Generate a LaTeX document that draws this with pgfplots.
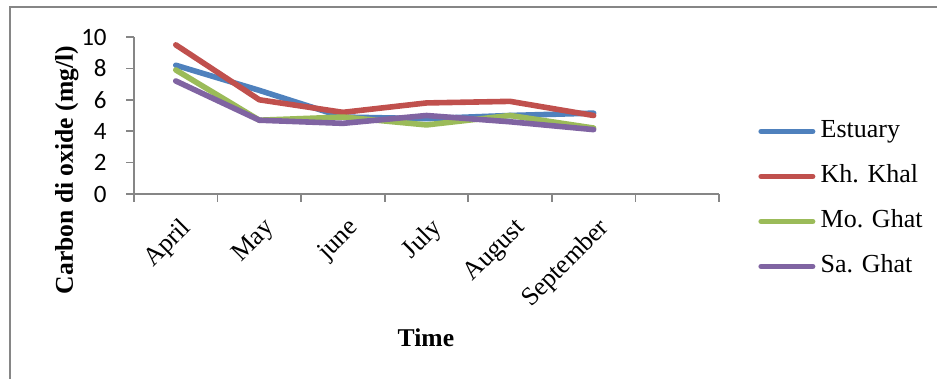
\documentclass[border=0pt]{standalone}
\usepackage{fontspec}
\setmainfont{Liberation Serif}
\newfontfamily\calibri{Carlito}
\usepackage{pgfplots}
\pgfplotsset{compat=1.18}
\definecolor{cEst}{HTML}{4F81BD}
\definecolor{cKh}{HTML}{C0504D}
\definecolor{cMo}{HTML}{9BBB59}
\definecolor{cSa}{HTML}{8064A2}
\definecolor{axgray}{HTML}{868686}
\begin{document}
\begin{tikzpicture}
\path[use as bounding box] (0,0) rectangle (468.5pt,189.5pt);
\draw[axgray, line width=0.8pt] (5pt,-1pt) -- (5pt,186pt) -- (470pt,186pt);
\begin{axis}[
  at={(67pt,92.5pt)}, anchor=south west,
  scale only axis, width=292.5pt, height=78.5pt,
  xmin=-0.5, xmax=6.5, ymin=0, ymax=10,
  axis x line=bottom, axis y line=left,
  axis line style={axgray, line width=0.8pt, -},
  every tick/.style={axgray, line width=0.8pt},
  tick align=outside, major tick length=4pt,
  xtick={-0.5,0.5,...,6.5}, xticklabels={},
  extra x ticks={0,1,2,3,4,5},
  extra x tick labels={April,May,june,July,August,September},
  extra x tick style={major tick length=0pt,
    tick label style={rotate=45, anchor=east, inner sep=0pt, xshift=-6.5pt, yshift=-15pt,
      font=\fontsize{13}{15}\selectfont}},
  ytick={0,2,...,10},
  yticklabel style={font=\calibri\fontsize{12.5}{14}\selectfont, inner sep=0pt, xshift=-9.5pt},
  /pgf/number format/assume math mode=true,
  ylabel={\textbf{Carbon di oxide (mg/l)}},
  every axis y label/.style={at={(axis description cs:-0.115,0.153)}, rotate=90, anchor=center,
    font=\fontsize{12.8}{15}\selectfont},
  xlabel={\textbf{Time}},
  every axis x label/.style={at={(axis description cs:0.499,-0.917)}, anchor=center,
    font=\fontsize{12.8}{15}\selectfont},
  clip=false,
  legend cell align=left,
  legend style={at={(1.0667,0.478)}, anchor=north west, draw=none, fill=none,
    inner sep=0pt, row sep=10.5pt,
    nodes={inner sep=0pt, text height=9pt, text depth=3pt, font=\fontsize{13}{15}\selectfont}},
  legend image code/.code={\draw[#1, line width=2.5pt] (0pt,0pt) -- (26pt,0pt); \path (28.5pt,0pt);},
  every axis plot/.append style={line width=2.8pt, line cap=round, line join=round, mark=none},
]
\addplot[cEst] coordinates {(0,8.2) (1,6.6) (2,4.9) (3,4.8) (4,5.0) (5,5.15)};
\addplot[cKh] coordinates {(0,9.5) (1,6.0) (2,5.2) (3,5.8) (4,5.9) (5,5.0)};
\addplot[cMo] coordinates {(0,7.9) (1,4.7) (2,4.9) (3,4.4) (4,5.0) (5,4.2)};
\addplot[cSa] coordinates {(0,7.2) (1,4.7) (2,4.5) (3,5.0) (4,4.6) (5,4.1)};
\legend{Estuary,Kh. Khal,Mo. Ghat,Sa. Ghat}
\end{axis}
\end{tikzpicture}
\end{document}
